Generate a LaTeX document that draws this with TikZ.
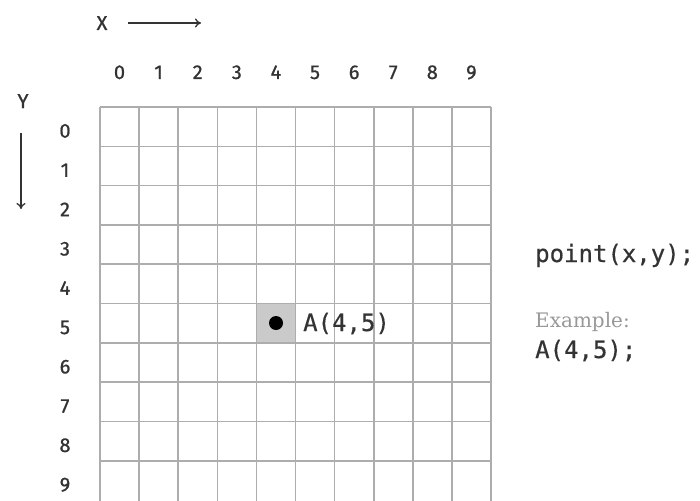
\documentclass[tikz,border=0pt]{standalone}
\usepackage{fontspec}
\newfontfamily\labf{Fira Sans}[FakeBold=0.8]
\newfontfamily\monof{DejaVu Sans Mono}[FakeBold=0.4]
\newfontfamily\exf{DejaVu Serif}
\definecolor{gridc}{HTML}{ADADAD}
\definecolor{txtc}{HTML}{333333}
\definecolor{cellc}{HTML}{CACACA}
\definecolor{examc}{HTML}{999999}
\usetikzlibrary{arrows.meta}
\tikzset{
  numlab/.style={font=\labf\fontsize{20}{20}\selectfont, text=txtc, inner sep=0pt, anchor=base},
  codelab/.style={font=\monof\fontsize{24}{24}\selectfont, text=txtc, inner sep=0pt, anchor=base west},
  axisarrow/.style={draw=txtc, line width=1.3pt, -{To[length=6pt,width=9pt]}},
  gridline/.style={draw=gridc, line width=1.6pt}
}
\begin{document}
\begin{tikzpicture}[x=1pt,y=-1pt]
\useasboundingbox[fill=white] (0,0) rectangle (700,500);
% highlighted cell
\fill[cellc] (100+4*39.1,107+5*39.3) rectangle (100+5*39.1,107+6*39.3);
% grid
\foreach \i in {0,...,10} {
  \draw[gridline] (100+\i*39.1,107) -- (100+\i*39.1,503);
}
\foreach \i in {0,...,9} {
  \draw[gridline] (100,107+\i*39.3) -- (491,107+\i*39.3);
}
% axis labels
\node[numlab] (xl) at (102,30) {X};
\node[numlab] (yl) at (23,108) {Y};
\coordinate (xs) at (128,23);
\coordinate (xe) at (201,23);
\coordinate (ys) at (21,133);
\coordinate (ye) at (21,209);
\draw[axisarrow] (xs) -- (xe);
\draw[axisarrow] (ys) -- (ye);
% column and row numbers
\foreach \i in {0,...,9} {
  \node[numlab] (c\i) at (100+\i*39.1+19.5,79) {\i};
  \node[numlab] (r\i) at (65,107+\i*39.3+19.6+11) {\i};
}
% point
\fill[black] (276,323) circle (7);
\node[codelab] (pa) at (303,331) {A(4,5)};
% right texts
\node[codelab] (pt) at (535,262) {point(x,y);};
\node[font=\exf\fontsize{20}{20}\selectfont, text=examc, inner sep=0pt, anchor=base west] (ex) at (535,327) {Example:};
\node[codelab] (ae) at (535,358) {A(4,5);};
\end{tikzpicture}
\end{document}
